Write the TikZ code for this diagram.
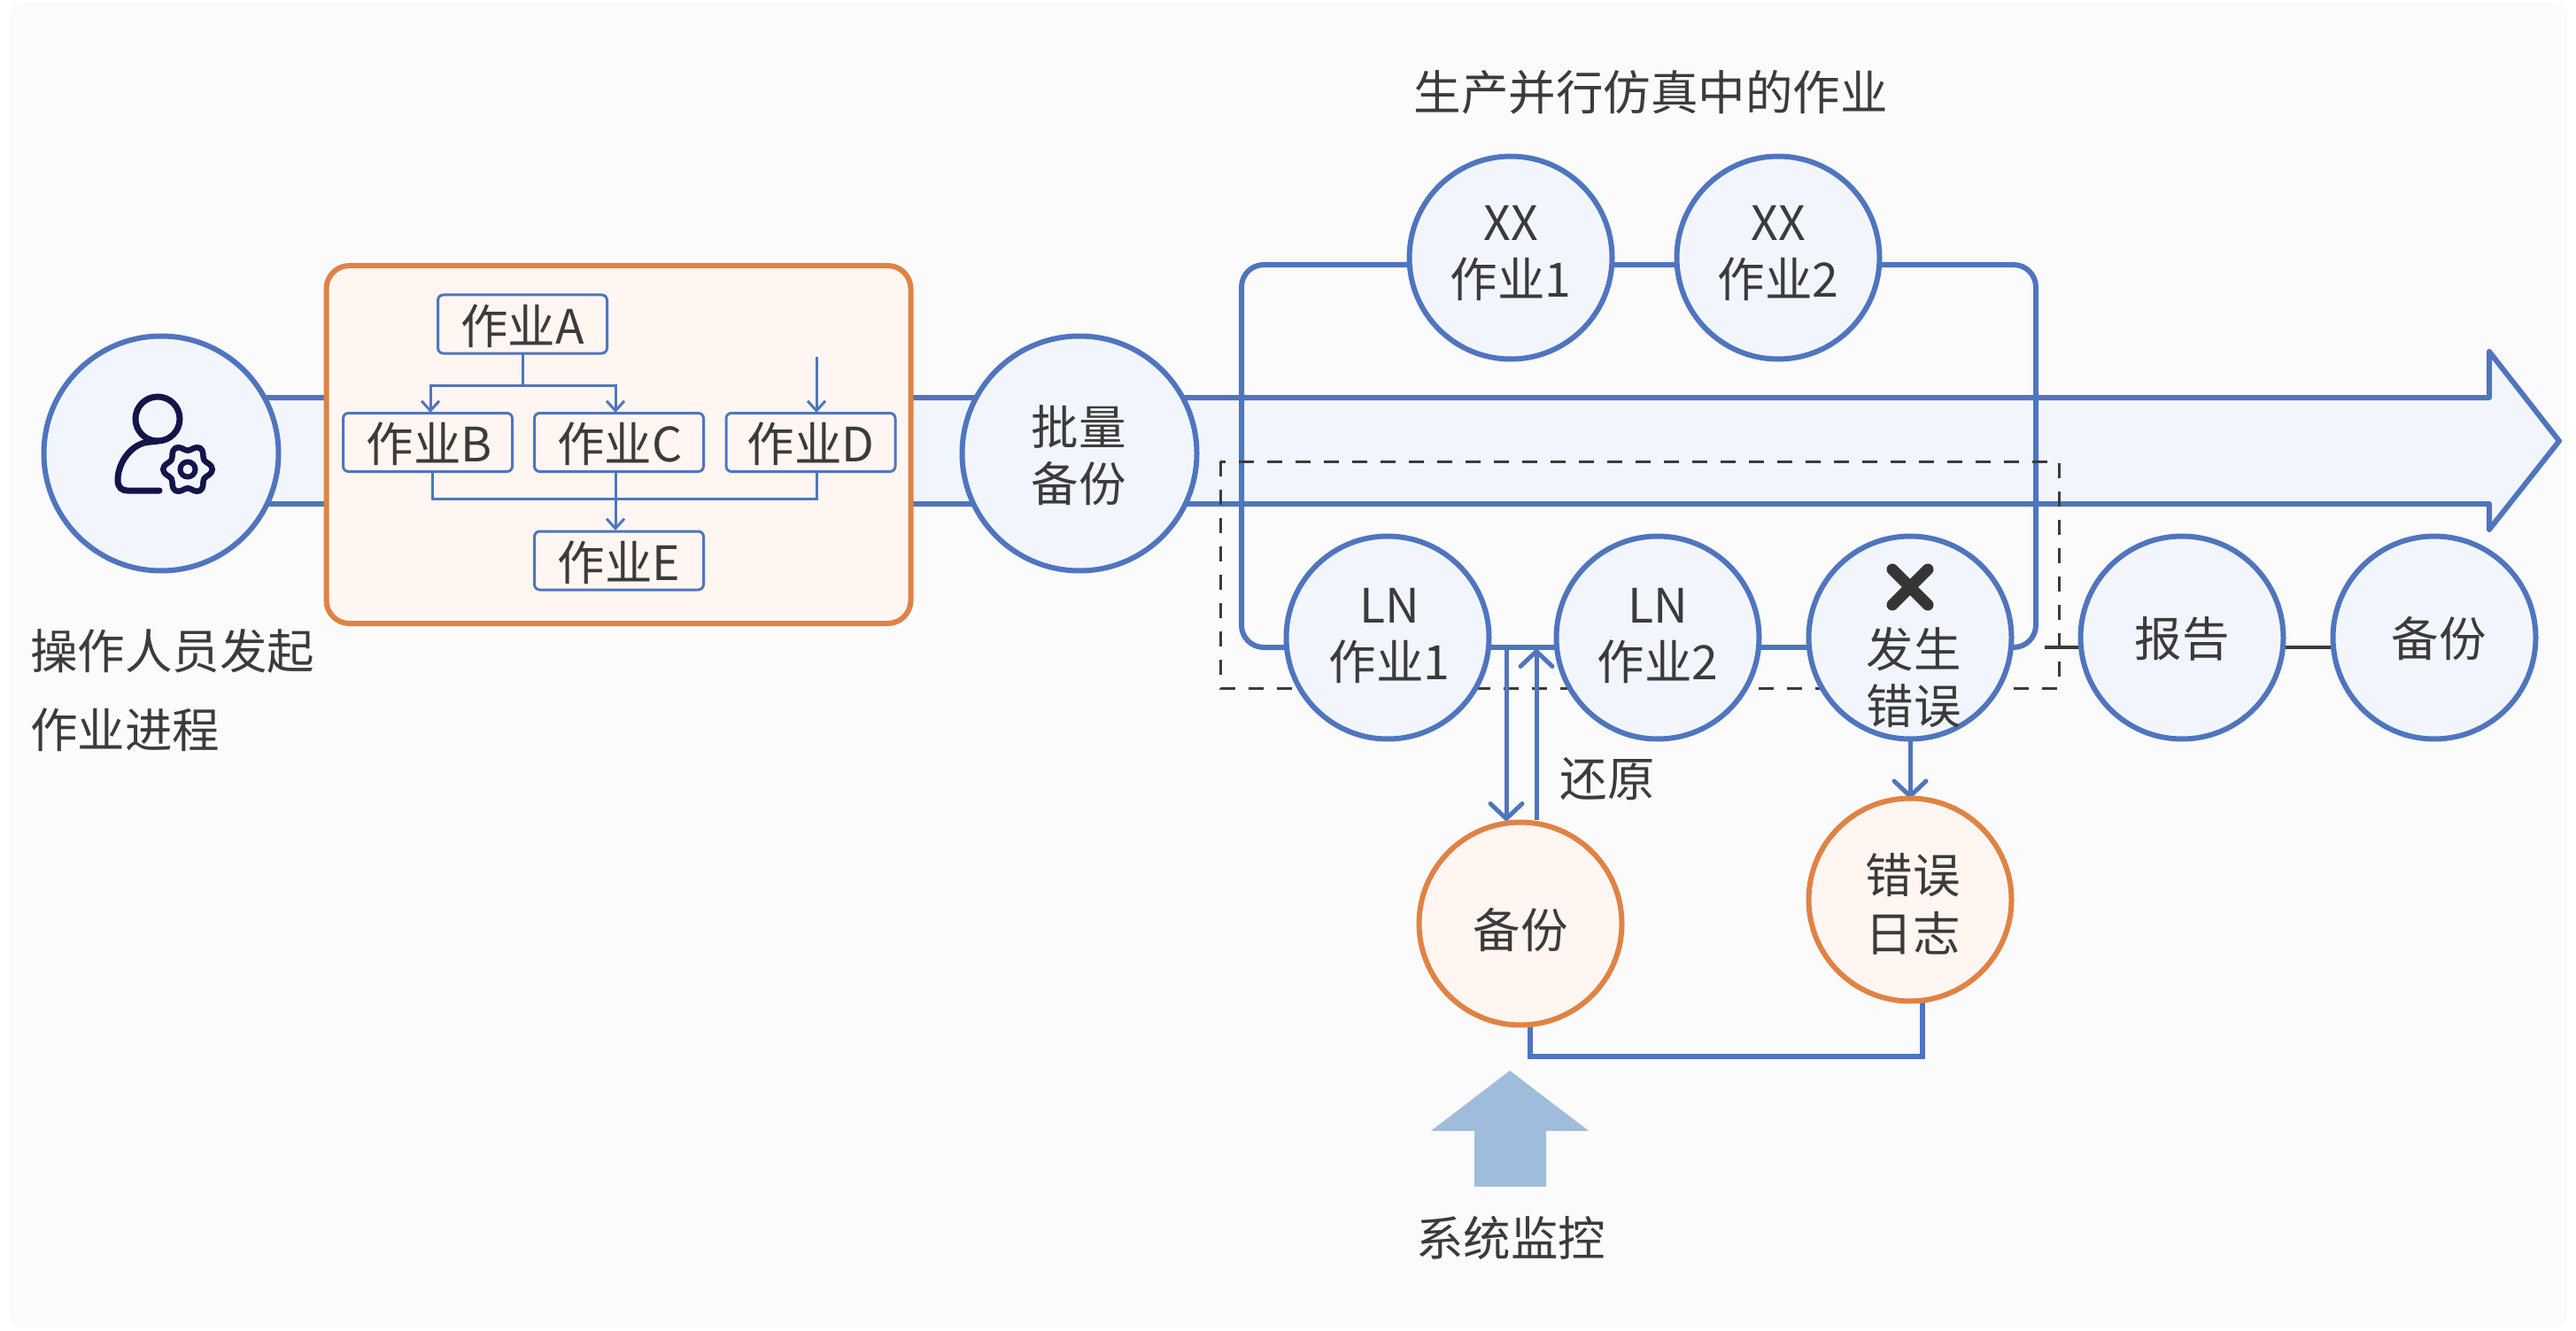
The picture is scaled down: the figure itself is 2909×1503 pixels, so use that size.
\documentclass[tikz,border=0pt]{standalone}
\usepackage{fontspec}
\setmainfont{Noto Sans CJK SC}
\usetikzlibrary{arrows.meta,calc,backgrounds}
\definecolor{bgc}{HTML}{FBFBFB}
\definecolor{bluec}{HTML}{4F75BF}
\definecolor{bluef}{HTML}{F2F6FC}
\definecolor{orac}{HTML}{E08244}
\definecolor{oraf}{HTML}{FFF6F2}
\definecolor{txtc}{HTML}{3B3B3B}
\definecolor{navy}{HTML}{14144A}
\definecolor{upc}{HTML}{A0BCDC}
\tikzset{
  x=1pt,y=-1pt,
  every node/.style={text=txtc,font=\fontsize{53.5}{64}\selectfont,inner sep=0pt,outer sep=0pt,align=center},
  job/.style={circle,draw=bluec,fill=bluef,line width=6pt,minimum size=229pt},
  bigjob/.style={circle,draw=bluec,fill=bluef,line width=6pt,minimum size=265pt},
  logjob/.style={circle,draw=orac,fill=oraf,line width=6pt,minimum size=229pt},
  taskbox/.style={rectangle,rounded corners=6pt,draw=bluec,fill=oraf,line width=3pt,minimum width=191pt,minimum height=66pt},
  rail/.style={draw=bluec,line width=6pt},
  thinl/.style={draw=bluec,line width=3pt},
  thinarr/.style={thinl,-{Straight Barb[length=11pt,width=20pt,line width=3pt]}},
  bigarr/.style={draw=bluec,line width=5pt,-{Straight Barb[length=17pt,width=36pt,line width=5pt,round]}},
  blk/.style={draw=txtc,line width=4pt},
}
\begin{document}
\begin{tikzpicture}
\useasboundingbox (0,0) rectangle (2909,1503);
% nodes
\node[bigjob] (user) at (182,512) {};
\node[rectangle,rounded corners=26pt,draw=orac,fill=oraf,line width=6pt,minimum width=660pt,minimum height=404pt] (group) at (698.5,502) {};
\node[taskbox] (a) at (590,366) {};
\node[taskbox] (b) at (483,499.5) {};
\node[taskbox] (c) at (699,499.5) {};
\node[taskbox] (d) at (915.5,499.5) {};
\node[taskbox] (e) at (699,633) {};
\node (at) at (590,368) {作业A};
\node (bt) at (485,501.5) {作业B};
\node (ct) at (700,501.5) {作业C};
\node (dt) at (915.5,501.5) {作业D};
\node (et) at (699,635) {作业E};
\node[bigjob] (batch) at (1219,512) {};
\node (batcht) at (1218,514) {批量\\备份};
\node[job] (xx1) at (1706,291) {};
\node[job] (xx2) at (2008,291) {};
\node (xx1t) at (1706,286) {XX\\作业1};
\node (xx2t) at (2008,286) {XX\\作业2};
\node[job] (ln1) at (1567,720) {};
\node[job] (ln2) at (1872,720) {};
\node (ln1t) at (1569,718) {LN\\作业1};
\node (ln2t) at (1872,718) {LN\\作业2};
\node[job] (err) at (2157,720) {};
\node (errt) at (2161,765) {发生\\错误};
\node[job] (rep) at (2464,720) {};
\node[job] (bak) at (2749,720) {};
\node (rept) at (2464,721) {报告};
\node (bakt) at (2754,721) {备份};
\node[logjob] (bk2) at (1717,1043) {};
\node[logjob] (elog) at (2157,1016) {};
\node (bk2t) at (1717,1050) {备份};
\node (elogt) at (2160,1021) {错误\\[2pt]日志};
\node (title) at (1864,104) {生产并行仿真中的作业};
\node[anchor=west,align=left,font=\fontsize{53.5}{89}\selectfont] (op) at (34,780) {操作人员发起\\作业进程};
\node (restore) at (1815,880) {还原};
\node (mon) at (1706,1398) {系统监控};
% X mark
\draw[draw=txtc!90!black,line width=13pt,line cap=round] (2137,643)--(2177,683) (2177,643)--(2137,683);
% person icon
\draw[navy,line width=7pt] (178,473) circle (25);
\draw[navy,line width=7pt,line cap=round] (178,498) .. controls (172,499) and (168,499) .. (163,500) .. controls (145,505) and (133,525) .. (133,542) .. controls (133,551) and (138,554) .. (144,554) -- (180,554);
\draw[navy,line width=6.5pt,line join=round] plot[smooth cycle,samples=48,domain=0:352.5] ({212+(24.5+3.3*cos(6*\x))*cos(\x)},{530+(24.5+3.3*cos(6*\x))*sin(\x)});
\draw[navy,line width=6pt] (212,530) circle (8.5);
\begin{pgfonlayer}{background}
\fill[white] (0,0) rectangle (2909,1503);
\fill[bgc,rounded corners=14pt] (10,4) rectangle (2899,1499);
% big arrow
\coordinate (au) at (user.center |- 0,449);
\coordinate (al) at (user.center |- 0,569);
\fill[bluef] (au) -- (2811,449) -- (2811,397) -- (2890,498) -- (2811,598) -- (2811,569) -- (al) -- cycle;
\draw[bluec,line width=6pt,line join=round] (au) -- (2811,449) -- (2811,397) -- (2890,498) -- (2811,598) -- (2811,569) -- (al);
% rails
\draw[rail,rounded corners=25pt] ([yshift=-8pt]xx1.center) -- (1402,299) -- (1402,731) -- ([yshift=-11pt]ln1.center);
\draw[rail,rounded corners=25pt] ([yshift=-8pt]xx2.center) -- (2299,299) -- (2299,731) -- ([yshift=-11pt]err.center);
\draw[rail] ([yshift=-8pt]xx1.center) -- ([yshift=-8pt]xx2.center);
\draw[rail] ([yshift=-11pt]ln1.center) -- ([yshift=-11pt]ln2.center);
\draw[rail] ([yshift=-11pt]ln2.center) -- ([yshift=-11pt]err.center);
\coordinate (free) at ($(rep.center)+(-155,11)$);
\draw[blk] (free) -- ([yshift=-11pt]rep.center);
\draw[blk] ([yshift=-11pt]rep.center) -- ([yshift=-11pt]bak.center);
% dashed frame
\draw[txtc,line width=3pt,dash pattern=on 17pt off 15pt] (1378,521) rectangle (2325,777);
% cross links
\draw[bigarr] (1701,731) -- (1701,927);
\draw[bigarr] (1735,926) -- (1735,733);
\draw[bigarr] (err.south) -- (elog.north);
\draw[rail] ($(bk2.south)+(11,0)$) -- (1728,1193) -- (2171,1193) -- ($(elog.south)+(14,0)$);
\fill[upc] (1705,1209) -- (1794,1277) -- (1746,1277) -- (1746,1340) -- (1665,1340) -- (1665,1277) -- (1616,1277) -- cycle;
\end{pgfonlayer}
% task connectors
\draw[thinl] (a.south) -- (590,435);
\draw[thinarr] (590,435) -| (486,466);
\draw[thinarr] (590,435) -| (695,466);
\draw[thinarr] (922,403) -- (922,466);
\draw[thinl] (488,533) -- (488,563) -- (922,563) -- (922,533);
\draw[thinarr] (695,533) -- (695,599);
\end{tikzpicture}
\end{document}
